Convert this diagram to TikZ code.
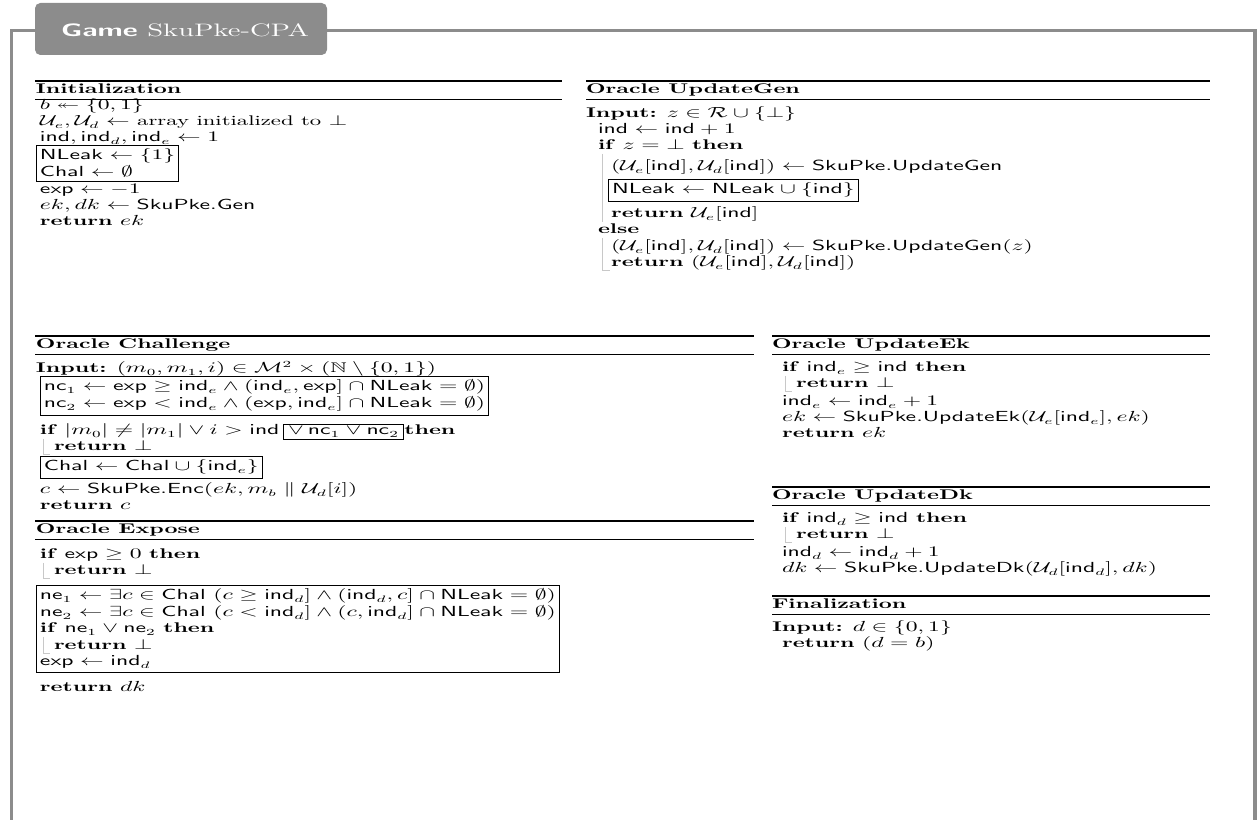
\documentclass[tikz,border=0pt]{standalone}
\usepackage{amsmath,amssymb}
\usetikzlibrary{positioning,fit}
\definecolor{framegray}{RGB}{140,140,140}
\definecolor{blockgray}{RGB}{200,200,200}
\newcommand{\kw}[1]{\textbf{#1}}
\newcommand{\vr}[1]{\mathsf{#1}}
\tikzset{
  txt/.style={anchor=base west, inner sep=0pt, outer sep=0pt, transform shape,
    font=\fontsize{10.5}{12}\selectfont},
  hrule/.style={line width=0.9pt},
  lrule/.style={line width=0.4pt},
  algbox/.style={draw, line width=0.5pt, inner sep=2.5pt, transform shape},
  inlinebox/.style={txt, draw, line width=0.5pt, inner sep=2pt},
  blockline/.style={draw=blockgray, line width=0.5pt},
  frame/.style={draw=framegray, line width=2.8pt},
}
\begin{document}
\begin{tikzpicture}[x=0.463pt,y=-0.75pt,xscale=1.62]
\useasboundingbox (0,0) rectangle (1260,820);
%%% outer frame and title
\draw[frame] (11.5,820) -- (11.5,30.5) -- (1255,30.5) -- (1255,820);
\fill[framegray, rounded corners=4pt] (35,3) rectangle (327,55);
\node[txt, text=white, font=\fontsize{13.5}{14}\selectfont] (title) at (61,37) {\textsf{\bfseries Game} SkuPke-CPA};

%%% Initialization
\draw[hrule] (35,81) -- (562,81);
\node[txt] (inithead) at (36,94) {\kw{Initialization}};
\draw[lrule] (35,99) -- (562,99);
\node[txt] (init1) at (40,110) {$b \twoheadleftarrow \{0,1\}$};
\node[txt] (init2) at (40,126) {$\mathcal{U}_e, \mathcal{U}_d \leftarrow$ array initialized to $\bot$};
\node[txt] (init3) at (40,142) {$\vr{ind}, \vr{ind}_d, \vr{ind}_e \leftarrow 1$};
\node[txt] (init4) at (40,160) {$\vr{NLeak} \leftarrow \{1\}$};
\node[txt] (init5) at (40,177) {$\vr{Chal} \leftarrow \emptyset$};
\node[algbox, fit=(init4)(init5)] (initbox) {};
\node[txt] (init6) at (40,194) {$\vr{exp} \leftarrow -1$};
\node[txt] (init7) at (40,210) {$ek, dk \leftarrow \vr{SkuPke.Gen}$};
\node[txt] (init8) at (40,226) {\kw{return} $ek$};

%%% Oracle UpdateGen
\draw[hrule] (586,81) -- (1210,81);
\node[txt] (genhead) at (586,94) {\kw{Oracle UpdateGen}};
\draw[lrule] (586,99) -- (1210,99);
\node[txt] (gen1) at (586,118) {\kw{Input:} $z \in \mathcal{R} \cup \{\bot\}$};
\node[txt] (gen2) at (598,134) {$\vr{ind} \leftarrow \vr{ind} + 1$};
\node[txt] (gen3) at (598,150) {\kw{if} $z = \bot$ \kw{then}};
\node[txt] (gen4) at (611,171) {$(\mathcal{U}_e[\vr{ind}], \mathcal{U}_d[\vr{ind}]) \leftarrow \vr{SkuPke.UpdateGen}$};
\node[txt] (gen5) at (612,194) {$\vr{NLeak} \leftarrow \vr{NLeak} \cup \{\vr{ind}\}$};
\node[algbox, fit=(gen5)] (genbox) {};
\node[txt] (gen6) at (611,218) {\kw{return} $\mathcal{U}_e[\vr{ind}]$};
\node[txt] (gen7) at (598,234) {\kw{else}};
\node[txt] (gen8) at (611,251) {$(\mathcal{U}_e[\vr{ind}], \mathcal{U}_d[\vr{ind}]) \leftarrow \vr{SkuPke.UpdateGen}(z)$};
\node[txt] (gen9) at (611,267) {\kw{return} $(\mathcal{U}_e[\vr{ind}], \mathcal{U}_d[\vr{ind}])$};
\draw[blockline] (602,154) -- (602,222);
\draw[blockline] (602,238) |- (610,270);

%%% Oracle Challenge
\draw[hrule] (35,336) -- (754,336);
\node[txt] (chalhead) at (36,349) {\kw{Oracle Challenge}};
\draw[lrule] (35,354) -- (754,354);
\node[txt] (chal1) at (36,373) {\kw{Input:} $(m_0, m_1, i) \in \mathcal{M}^2 \times (\mathbb{N} \setminus \{0,1\})$};
\node[txt] (chal2) at (44,391) {$\vr{nc}_1 \leftarrow \vr{exp} \geq \vr{ind}_e \wedge (\vr{ind}_e, \vr{exp}] \cap \vr{NLeak} = \emptyset)$};
\node[txt] (chal3) at (44,408) {$\vr{nc}_2 \leftarrow \vr{exp} < \vr{ind}_e \wedge (\vr{exp}, \vr{ind}_e] \cap \vr{NLeak} = \emptyset)$};
\node[algbox, fit=(chal2)(chal3)] (ncbox) {};
\node[txt] (chal4) at (40,435) {\kw{if} $|m_0| \neq |m_1| \vee i > \vr{ind}$};
\node[inlinebox] (ncinline) at ([xshift=2pt]chal4.base east) {$\vee\, \vr{nc}_1 \vee \vr{nc}_2$};
\node[txt] (chal4b) at ([xshift=0.5pt]ncinline.base east) {\kw{then}};
\node[txt] (chal5) at (54,451) {\kw{return} $\bot$};
\draw[blockline] (43,439) |- (50,454);
\node[txt] (chal6) at (44,471) {$\vr{Chal} \leftarrow \vr{Chal} \cup \{\vr{ind}_e\}$};
\node[algbox, fit=(chal6)] (chalbox) {};
\node[txt] (chal7) at (40,494) {$c \leftarrow \vr{SkuPke.Enc}(ek, m_b \parallel \mathcal{U}_d[i])$};
\node[txt] (chal8) at (40,510) {\kw{return} $c$};

%%% Oracle Expose
\draw[hrule] (35,521) -- (754,521);
\node[txt] (exphead) at (36,534) {\kw{Oracle Expose}};
\draw[lrule] (35,539) -- (754,539);
\node[txt] (exp1) at (40,559) {\kw{if} $\vr{exp} \geq 0$ \kw{then}};
\node[txt] (exp2) at (54,575) {\kw{return} $\bot$};
\draw[blockline] (43,563) |- (50,578);
\node[txt] (exp3) at (40,600) {$\vr{ne}_1 \leftarrow \exists c \in \vr{Chal}\ (c \geq \vr{ind}_d] \wedge (\vr{ind}_d, c] \cap \vr{NLeak} = \emptyset)$};
\node[txt] (exp4) at (40,617) {$\vr{ne}_2 \leftarrow \exists c \in \vr{Chal}\ (c < \vr{ind}_d] \wedge (c, \vr{ind}_d] \cap \vr{NLeak} = \emptyset)$};
\node[txt] (exp5) at (40,633) {\kw{if} $\vr{ne}_1 \vee \vr{ne}_2$ \kw{then}};
\node[txt] (exp6) at (54,650) {\kw{return} $\bot$};
\draw[blockline] (43,637) |- (50,653);
\node[txt] (exp7) at (40,666) {$\vr{exp} \leftarrow \vr{ind}_d$};
\node[algbox, fit=(exp3)(exp7)] (nebox) {};
\node[txt] (exp8) at (40,692) {\kw{return} $dk$};

%%% Oracle UpdateEk
\draw[hrule] (772,336) -- (1210,336);
\node[txt] (ekhead) at (772,349) {\kw{Oracle UpdateEk}};
\draw[lrule] (772,354) -- (1210,354);
\node[txt] (ek1) at (782,372) {\kw{if} $\vr{ind}_e \geq \vr{ind}$ \kw{then}};
\node[txt] (ek2) at (796,388) {\kw{return} $\bot$};
\draw[blockline] (785,376) |- (792,391);
\node[txt] (ek3) at (782,406) {$\vr{ind}_e \leftarrow \vr{ind}_e + 1$};
\node[txt] (ek4) at (782,422) {$ek \leftarrow \vr{SkuPke.UpdateEk}(\mathcal{U}_e[\vr{ind}_e], ek)$};
\node[txt] (ek5) at (782,438) {\kw{return} $ek$};

%%% Oracle UpdateDk
\draw[hrule] (772,487) -- (1210,487);
\node[txt] (dkhead) at (772,500) {\kw{Oracle UpdateDk}};
\draw[lrule] (772,505) -- (1210,505);
\node[txt] (dk1) at (782,523) {\kw{if} $\vr{ind}_d \geq \vr{ind}$ \kw{then}};
\node[txt] (dk2) at (796,539) {\kw{return} $\bot$};
\draw[blockline] (785,527) |- (792,542);
\node[txt] (dk3) at (782,557) {$\vr{ind}_d \leftarrow \vr{ind}_d + 1$};
\node[txt] (dk4) at (782,573) {$dk \leftarrow \vr{SkuPke.UpdateDk}(\mathcal{U}_d[\vr{ind}_d], dk)$};

%%% Finalization
\draw[hrule] (772,596) -- (1210,596);
\node[txt] (finhead) at (772,609) {\kw{Finalization}};
\draw[lrule] (772,614) -- (1210,614);
\node[txt] (fin1) at (772,632) {\kw{Input:} $d \in \{0,1\}$};
\node[txt] (fin2) at (782,648) {\kw{return} $(d = b)$};
\end{tikzpicture}
\end{document}
